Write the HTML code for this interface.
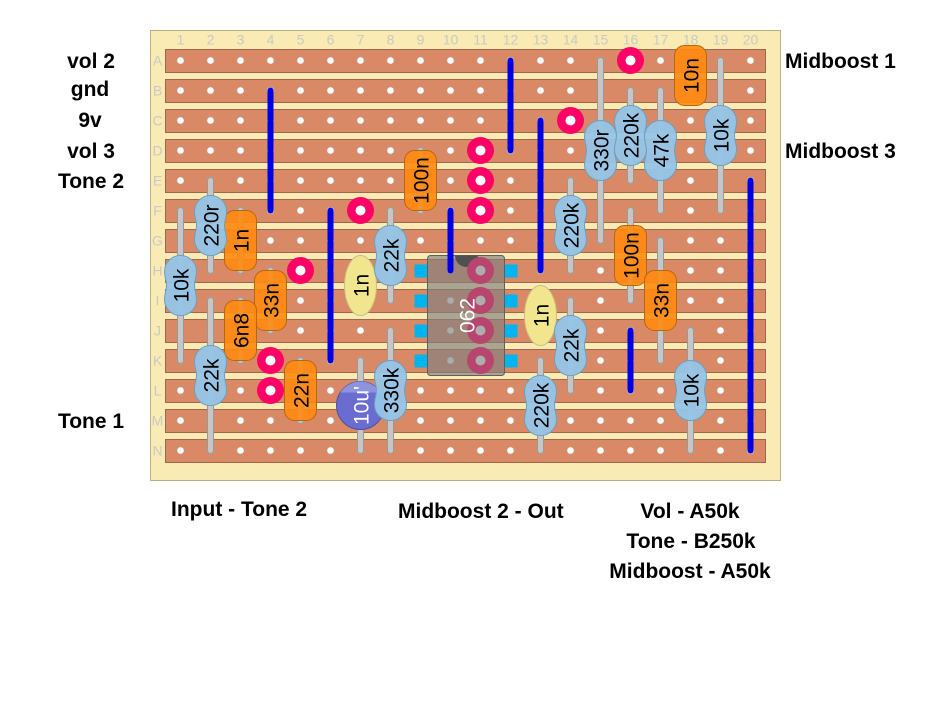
<!DOCTYPE html>
<html>
<head>
<meta charset="utf-8">
<style>
html,body{margin:0;padding:0;background:#fff;width:943px;height:706px;overflow:hidden}
svg{display:block}
text{font-family:"Liberation Sans",sans-serif}
.l{font-weight:bold;font-size:21px;fill:#000}
.m{text-anchor:middle}
.g{font-size:14px;fill:#c9c9c4;text-anchor:middle}
.c{font-size:21px;fill:#000;text-anchor:middle}
.lo{stroke:#989898;stroke-width:7;stroke-linecap:round}
.li{stroke:#c6c6c6;stroke-width:5;stroke-linecap:round}
.w{stroke:#0000e6;stroke-width:6;stroke-linecap:round}
.cap{fill:#ff8a10;fill-opacity:.9;stroke:#b4690f;stroke-width:1}
.res{fill:#96c5e8;fill-opacity:.95;stroke:#6ba0c2;stroke-width:1}
.film{fill:#f1e68e;stroke:#c8bf80;stroke-width:1}
.strip{fill:#d98965;stroke:#a0674c;stroke-width:1}
.pin{fill:#00b4f0}
</style>
</head>
<body>
<svg width="943" height="706" viewBox="0 0 943 706" xmlns="http://www.w3.org/2000/svg">
<defs>
<pattern id="h" patternUnits="userSpaceOnUse" x="165.5" y="45.5" width="30" height="30">
<circle cx="15" cy="15" r="3.6" fill="#fff" stroke="#c09a85" stroke-width=".6"/>
</pattern>
<path id="rb" d="M0,-30C9,-30 16,-23 16,-14C16,-8 14,-5 14,0C14,5 16,8 16,14C16,23 9,30 0,30C-9,30 -16,23 -16,14C-16,8 -14,5 -14,0C-14,-5 -16,-8 -16,-14C-16,-23 -9,-30 0,-30Z"/>
<clipPath id="ic"><rect x="427" y="255" width="77" height="120" rx="3"/></clipPath>
<clipPath id="el"><circle cx="360" cy="405" r="24"/></clipPath>
</defs>
<rect width="943" height="706" fill="#fff"/>
<g transform="translate(.5 .5)">
<rect x="150" y="30" width="630" height="450" fill="#f9ebb3" stroke="#b7b084"/>
<g class="strip">
<rect x="165" y="49" width="600" height="23"/><rect x="165" y="79" width="600" height="23"/><rect x="165" y="109" width="600" height="23"/><rect x="165" y="139" width="600" height="23"/><rect x="165" y="169" width="600" height="23"/><rect x="165" y="199" width="600" height="23"/><rect x="165" y="229" width="600" height="23"/><rect x="165" y="259" width="600" height="23"/><rect x="165" y="289" width="600" height="23"/><rect x="165" y="319" width="600" height="23"/><rect x="165" y="349" width="600" height="23"/><rect x="165" y="379" width="600" height="23"/><rect x="165" y="409" width="600" height="23"/><rect x="165" y="439" width="600" height="23"/>
</g>
<rect x="165" y="45" width="600" height="420" fill="url(#h)" transform="translate(-.5 -.5)"/>
<g>
<text class="g" x="180" y="44">1</text><text class="g" x="210" y="44">2</text><text class="g" x="240" y="44">3</text><text class="g" x="270" y="44">4</text><text class="g" x="300" y="44">5</text><text class="g" x="330" y="44">6</text><text class="g" x="360" y="44">7</text><text class="g" x="390" y="44">8</text><text class="g" x="420" y="44">9</text><text class="g" x="450" y="44">10</text><text class="g" x="480" y="44">11</text><text class="g" x="510" y="44">12</text><text class="g" x="540" y="44">13</text><text class="g" x="570" y="44">14</text><text class="g" x="600" y="44">15</text><text class="g" x="630" y="44">16</text><text class="g" x="660" y="44">17</text><text class="g" x="690" y="44">18</text><text class="g" x="720" y="44">19</text><text class="g" x="750" y="44">20</text>
<text class="g" x="157" y="65">A</text><text class="g" x="157" y="95">B</text><text class="g" x="157" y="125">C</text><text class="g" x="157" y="155">D</text><text class="g" x="157" y="185">E</text><text class="g" x="157" y="215">F</text><text class="g" x="157" y="245">G</text><text class="g" x="157" y="275">H</text><text class="g" x="157" y="305">I</text><text class="g" x="157" y="335">J</text><text class="g" x="157" y="365">K</text><text class="g" x="157" y="395">L</text><text class="g" x="157" y="425">M</text><text class="g" x="157" y="455">N</text>
</g>

<!-- IC pins, body, pads -->
<g class="pin">
<rect x="414" y="264" width="13" height="13"/><rect x="414" y="294" width="13" height="13"/><rect x="414" y="324" width="13" height="13"/><rect x="414" y="354" width="13" height="13"/>
<rect x="504" y="264" width="13" height="13"/><rect x="504" y="294" width="13" height="13"/><rect x="504" y="324" width="13" height="13"/><rect x="504" y="354" width="13" height="13"/>
</g>
<rect x="427" y="255" width="77" height="120" rx="3" fill="#808080" fill-opacity=".65" stroke="#5f5f5f"/>
<circle cx="466" cy="255" r="11.5" fill="#505050" clip-path="url(#ic)"/>
<g fill="#b8456e">
<circle cx="480" cy="270" r="13.5"/><circle cx="480" cy="300" r="13.5"/><circle cx="480" cy="330" r="13.5"/><circle cx="480" cy="360" r="13.5"/>
</g>
<g fill="#adadad">
<circle cx="480" cy="270" r="5"/><circle cx="480" cy="300" r="5"/><circle cx="480" cy="330" r="5"/><circle cx="480" cy="360" r="5"/>
</g>
<text x="0" y="0" font-size="21" fill="#fff" text-anchor="middle" transform="translate(474 315) rotate(-90)">062</text>

<!-- wires -->
<line class="w" x1="270" y1="90" x2="270" y2="210"/>
<line class="w" x1="330" y1="210" x2="330" y2="360"/>
<line class="w" x1="450" y1="210" x2="450" y2="270"/>
<line class="w" x1="510" y1="60" x2="510" y2="150"/>
<line class="w" x1="540" y1="120" x2="540" y2="270"/>
<line class="w" x1="630" y1="330" x2="630" y2="390"/>
<line class="w" x1="750" y1="180" x2="750" y2="450"/>

<!-- pads -->
<g fill="#ff0066">
<circle cx="630" cy="60" r="13.5"/><circle cx="570" cy="120" r="13.5"/><circle cx="480" cy="150" r="13.5"/><circle cx="480" cy="180" r="13.5"/><circle cx="480" cy="210" r="13.5"/><circle cx="360" cy="210" r="13.5"/><circle cx="300" cy="270" r="13.5"/><circle cx="270" cy="360" r="13.5"/><circle cx="270" cy="390" r="13.5"/>
</g>
<g fill="#fff">
<circle cx="630" cy="60" r="5"/><circle cx="570" cy="120" r="5"/><circle cx="480" cy="150" r="5"/><circle cx="480" cy="180" r="5"/><circle cx="480" cy="210" r="5"/><circle cx="360" cy="210" r="5"/><circle cx="300" cy="270" r="5"/><circle cx="270" cy="360" r="5"/><circle cx="270" cy="390" r="5"/>
</g>

<!-- leads -->
<g class="lo">
<line x1="210" y1="180" x2="210" y2="270"/><line x1="180" y1="210" x2="180" y2="360"/><line x1="210" y1="300" x2="210" y2="450"/><line x1="390" y1="210" x2="390" y2="300"/><line x1="390" y1="330" x2="390" y2="450"/><line x1="570" y1="180" x2="570" y2="270"/><line x1="570" y1="300" x2="570" y2="390"/><line x1="540" y1="360" x2="540" y2="450"/><line x1="600" y1="60" x2="600" y2="240"/><line x1="630" y1="90" x2="630" y2="180"/><line x1="660" y1="90" x2="660" y2="210"/><line x1="720" y1="60" x2="720" y2="210"/><line x1="690" y1="330" x2="690" y2="450"/><line x1="360" y1="360" x2="360" y2="450"/>
<line x1="240" y1="210" x2="240" y2="270"/><line x1="270" y1="270" x2="270" y2="330"/><line x1="240" y1="300" x2="240" y2="360"/><line x1="300" y1="360" x2="300" y2="420"/><line x1="420" y1="150" x2="420" y2="210"/><line x1="630" y1="210" x2="630" y2="300"/><line x1="660" y1="240" x2="660" y2="360"/><line x1="690" y1="60" x2="690" y2="90"/>
</g>
<g class="li">
<line x1="210" y1="180" x2="210" y2="270"/><line x1="180" y1="210" x2="180" y2="360"/><line x1="210" y1="300" x2="210" y2="450"/><line x1="390" y1="210" x2="390" y2="300"/><line x1="390" y1="330" x2="390" y2="450"/><line x1="570" y1="180" x2="570" y2="270"/><line x1="570" y1="300" x2="570" y2="390"/><line x1="540" y1="360" x2="540" y2="450"/><line x1="600" y1="60" x2="600" y2="240"/><line x1="630" y1="90" x2="630" y2="180"/><line x1="660" y1="90" x2="660" y2="210"/><line x1="720" y1="60" x2="720" y2="210"/><line x1="690" y1="330" x2="690" y2="450"/><line x1="360" y1="360" x2="360" y2="450"/>
<line x1="240" y1="210" x2="240" y2="270"/><line x1="270" y1="270" x2="270" y2="330"/><line x1="240" y1="300" x2="240" y2="360"/><line x1="300" y1="360" x2="300" y2="420"/><line x1="420" y1="150" x2="420" y2="210"/><line x1="630" y1="210" x2="630" y2="300"/><line x1="660" y1="240" x2="660" y2="360"/><line x1="690" y1="60" x2="690" y2="90"/>
</g>

<!-- capacitors -->
<rect class="cap" x="224" y="210" width="32" height="60" rx="10"/>
<rect class="cap" x="254" y="270" width="32" height="60" rx="10"/>
<rect class="cap" x="224" y="300" width="32" height="60" rx="10"/>
<rect class="cap" x="284" y="360" width="32" height="60" rx="10"/>
<rect class="cap" x="404" y="150" width="32" height="60" rx="10"/>
<rect class="cap" x="614" y="225" width="32" height="60" rx="10"/>
<rect class="cap" x="644" y="270" width="32" height="60" rx="10"/>
<rect class="cap" x="674" y="45" width="32" height="60" rx="10"/>
<text class="c" transform="translate(248 240) rotate(-90)">1n</text>
<text class="c" transform="translate(278 300) rotate(-90)">33n</text>
<text class="c" transform="translate(248 330) rotate(-90)">6n8</text>
<text class="c" transform="translate(308 390) rotate(-90)">22n</text>
<text class="c" transform="translate(428 180) rotate(-90)">100n</text>
<text class="c" transform="translate(638 255) rotate(-90)">100n</text>
<text class="c" transform="translate(668 300) rotate(-90)">33n</text>
<text class="c" transform="translate(698 75) rotate(-90)">10n</text>

<!-- film caps -->
<ellipse class="film" cx="360" cy="285" rx="16" ry="30"/>
<ellipse class="film" cx="540" cy="315" rx="16" ry="30"/>
<text class="c" transform="translate(368 285) rotate(-90)">1n</text>
<text class="c" transform="translate(548 315) rotate(-90)">1n</text>

<!-- electrolytic -->
<circle cx="360" cy="405" r="24" fill="#6a6ccf" stroke="#4f51a0"/>
<rect x="336" y="381" width="48" height="11" fill="#8d93dd" clip-path="url(#el)"/>
<text font-size="21" fill="#fff" text-anchor="middle" transform="translate(368 405) rotate(-90)">10u'</text>

<!-- resistors -->
<use href="#rb" class="res" x="210" y="225"/>
<use href="#rb" class="res" x="180" y="285"/>
<use href="#rb" class="res" x="210" y="375"/>
<use href="#rb" class="res" x="390" y="255"/>
<use href="#rb" class="res" x="390" y="390"/>
<use href="#rb" class="res" x="570" y="225"/>
<use href="#rb" class="res" x="570" y="345"/>
<use href="#rb" class="res" x="540" y="405"/>
<use href="#rb" class="res" x="600" y="150"/>
<use href="#rb" class="res" x="630" y="135"/>
<use href="#rb" class="res" x="660" y="150"/>
<use href="#rb" class="res" x="720" y="135"/>
<use href="#rb" class="res" x="690" y="390"/>
<text class="c" transform="translate(218 225) rotate(-90)">220r</text>
<text class="c" transform="translate(188 285) rotate(-90)">10k</text>
<text class="c" transform="translate(218 375) rotate(-90)">22k</text>
<text class="c" transform="translate(398 255) rotate(-90)">22k</text>
<text class="c" transform="translate(398 390) rotate(-90)">330k</text>
<text class="c" transform="translate(578 225) rotate(-90)">220k</text>
<text class="c" transform="translate(578 345) rotate(-90)">22k</text>
<text class="c" transform="translate(548 405) rotate(-90)">220k</text>
<text class="c" transform="translate(608 150) rotate(-90)">330r</text>
<text class="c" transform="translate(638 135) rotate(-90)">220k</text>
<text class="c" transform="translate(668 150) rotate(-90)">47k</text>
<text class="c" transform="translate(728 135) rotate(-90)">10k</text>
<text class="c" transform="translate(698 390) rotate(-90)">10k</text>
</g>

<!-- labels -->
<text class="l m" x="91" y="68">vol 2</text>
<text class="l m" x="90" y="96">gnd</text>
<text class="l m" x="90" y="127">9v</text>
<text class="l m" x="91" y="158">vol 3</text>
<text class="l m" x="91" y="188">Tone 2</text>
<text class="l m" x="91" y="428">Tone 1</text>
<text class="l" x="785" y="68">Midboost 1</text>
<text class="l" x="785" y="158">Midboost 3</text>
<text class="l" x="171" y="516">Input - Tone 2</text>
<text class="l" x="398" y="518">Midboost 2 - Out</text>
<text class="l m" x="690" y="518">Vol - A50k</text>
<text class="l m" x="691" y="548">Tone - B250k</text>
<text class="l m" x="690" y="578">Midboost - A50k</text>
</svg>
</body>
</html>
